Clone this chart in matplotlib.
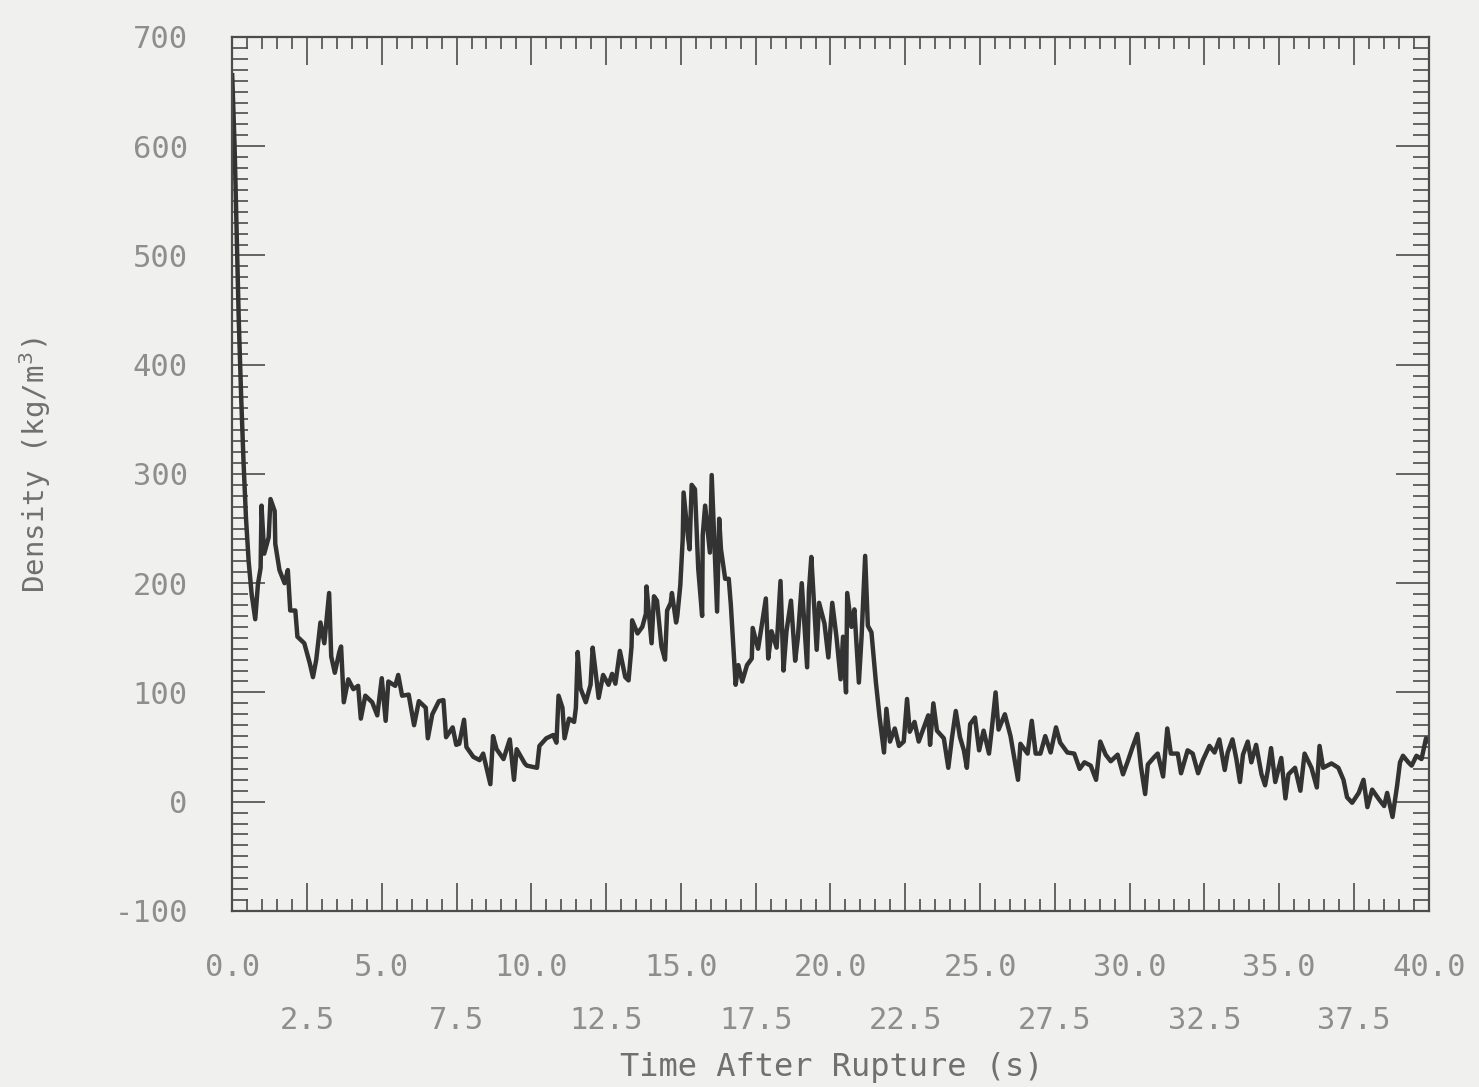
import matplotlib
matplotlib.use("Agg")
import matplotlib.pyplot as plt
from matplotlib.ticker import MultipleLocator

# Fluid density measured after the rupture
time_s = [
    0.00, 0.08, 0.15, 0.22, 0.30, 0.38, 0.46, 0.55, 0.65, 0.77,
    0.86, 0.95, 0.98, 1.07, 1.22, 1.28, 1.42, 1.44, 1.58, 1.75,
    1.86, 1.94, 2.11, 2.18, 2.41, 2.59, 2.70, 2.81, 2.95, 3.08,
    3.24, 3.31, 3.43, 3.58, 3.64, 3.73, 3.88, 4.05, 4.21, 4.30,
    4.45, 4.68, 4.85, 5.00, 5.13, 5.22, 5.45, 5.55, 5.68, 5.90,
    6.08, 6.24, 6.47, 6.54, 6.69, 6.91, 7.06, 7.15, 7.37, 7.49,
    7.59, 7.75, 7.83, 8.06, 8.27, 8.39, 8.63, 8.72, 8.84, 9.07,
    9.28, 9.42, 9.51, 9.78, 9.85, 10.19, 10.27, 10.50, 10.73, 10.84,
    10.91, 11.04, 11.11, 11.26, 11.43, 11.49, 11.55, 11.64, 11.82, 11.98,
    12.05, 12.13, 12.25, 12.40, 12.58, 12.70, 12.81, 12.96, 13.14, 13.25,
    13.35, 13.37, 13.55, 13.71, 13.83, 13.85, 14.02, 14.10, 14.20, 14.35,
    14.47, 14.54, 14.66, 14.70, 14.84, 14.88, 14.98, 15.06, 15.09, 15.23,
    15.29, 15.36, 15.47, 15.58, 15.71, 15.73, 15.81, 15.97, 16.03, 16.21,
    16.28, 16.34, 16.48, 16.60, 16.67, 16.73, 16.83, 16.92, 17.05, 17.21,
    17.37, 17.40, 17.58, 17.69, 17.84, 17.92, 18.03, 18.20, 18.33, 18.43,
    18.53, 18.68, 18.82, 18.91, 19.04, 19.22, 19.28, 19.36, 19.54, 19.62,
    19.80, 19.93, 20.06, 20.20, 20.34, 20.42, 20.52, 20.56, 20.70, 20.80,
    20.95, 21.04, 21.16, 21.25, 21.37, 21.52, 21.64, 21.79, 21.87, 21.99,
    22.15, 22.29, 22.45, 22.56, 22.65, 22.81, 22.95, 23.11, 23.27, 23.33,
    23.44, 23.56, 23.79, 23.94, 24.06, 24.19, 24.33, 24.46, 24.56, 24.67,
    24.83, 24.97, 25.12, 25.30, 25.40, 25.52, 25.62, 25.83, 26.02, 26.27,
    26.35, 26.59, 26.73, 26.86, 27.02, 27.18, 27.36, 27.54, 27.68, 27.92,
    28.15, 28.33, 28.49, 28.70, 28.88, 29.02, 29.20, 29.37, 29.60, 29.78,
    29.94, 30.10, 30.26, 30.38, 30.52, 30.61, 30.83, 30.94, 31.12, 31.26,
    31.38, 31.61, 31.72, 31.94, 32.11, 32.29, 32.45, 32.67, 32.84, 33.00,
    33.18, 33.28, 33.44, 33.57, 33.69, 33.79, 33.95, 34.07, 34.23, 34.41,
    34.53, 34.63, 34.73, 34.87, 35.07, 35.21, 35.31, 35.53, 35.71, 35.85,
    36.08, 36.26, 36.35, 36.47, 36.75, 36.98, 37.15, 37.27, 37.44, 37.66,
    37.82, 37.95, 38.11, 38.34, 38.51, 38.61, 38.79, 38.94, 39.04, 39.14,
    39.32, 39.43, 39.59, 39.76, 39.91, 40.00,
]

density = [
    665, 600, 520, 440, 370, 310, 260, 220, 190, 167,
    199, 214, 271, 227, 242, 277, 266, 236, 212, 200,
    212, 175, 175, 151, 145, 127, 114, 130, 164, 145,
    191, 133, 118, 137, 142, 91, 112, 103, 106, 76,
    97, 91, 79, 113, 74, 110, 106, 116, 97, 98,
    70, 92, 86, 58, 80, 92, 93, 59, 68, 52,
    53, 75, 50, 41, 38, 44, 16, 60, 48, 39,
    57, 20, 48, 35, 33, 31, 51, 58, 61, 54,
    97, 86, 58, 76, 73, 86, 137, 104, 91, 107,
    141, 123, 95, 116, 107, 117, 108, 138, 114, 111,
    142, 166, 154, 160, 172, 197, 145, 188, 184, 142,
    130, 175, 182, 191, 164, 170, 198, 240, 283, 244,
    231, 290, 286, 213, 170, 244, 271, 228, 299, 174,
    259, 231, 204, 204, 180, 153, 107, 125, 110, 125,
    131, 159, 140, 159, 186, 131, 156, 141, 202, 120,
    156, 184, 129, 150, 200, 123, 193, 224, 139, 182,
    163, 132, 182, 151, 112, 151, 100, 191, 160, 176,
    109, 151, 225, 161, 155, 109, 78, 45, 85, 55,
    67, 51, 55, 94, 64, 73, 55, 67, 79, 52,
    90, 65, 58, 31, 58, 83, 59, 47, 31, 71,
    77, 47, 65, 44, 68, 100, 66, 80, 60, 20,
    53, 44, 74, 44, 44, 60, 45, 68, 54, 45,
    44, 30, 36, 33, 20, 55, 43, 37, 43, 25,
    37, 50, 62, 32, 7, 34, 41, 44, 23, 67,
    44, 44, 26, 47, 44, 26, 38, 51, 45, 57,
    29, 45, 57, 39, 18, 43, 55, 36, 52, 25,
    15, 30, 49, 18, 40, 3, 25, 31, 10, 44,
    31, 13, 51, 31, 35, 31, 20, 4, -1, 8,
    20, -5, 11, 2, -4, 8, -14, 14, 36, 42,
    36, 33, 42, 39, 58, 55,
]

# Axis ticks and their labels (the time labels are staggered on two rows)
x_row1 = [0.0, 5.0, 10.0, 15.0, 20.0, 25.0, 30.0, 35.0, 40.0]
x_row1_labels = ["0.0", "5.0", "10.0", "15.0", "20.0", "25.0", "30.0", "35.0", "40.0"]
x_row2 = [2.5, 7.5, 12.5, 17.5, 22.5, 27.5, 32.5, 37.5]
x_row2_labels = ["2.5", "7.5", "12.5", "17.5", "22.5", "27.5", "32.5", "37.5"]
y_ticks = [-100, 0, 100, 200, 300, 400, 500, 600, 700]
y_labels = ["-100", "0", "100", "200", "300", "400", "500", "600", "700"]

assert len(time_s) == len(density)

PAPER = "#f0f0ee"
INK = "#333333"
FRAME = "#4c4c4c"
LABEL = "#8e8e8e"
MONO = "DejaVu Sans Mono"

fig = plt.figure(figsize=(14.79, 10.87), dpi=100, facecolor=PAPER)
ax = fig.add_axes([0.157, 0.162, 0.809, 0.804])
ax.set_facecolor(PAPER)

ax.plot(time_s, density, color=INK, lw=3.2, solid_joinstyle="round")

ax.set_xlim(0, 40)
ax.set_ylim(-100, 700)

ax.xaxis.set_major_locator(MultipleLocator(2.5))
ax.xaxis.set_minor_locator(MultipleLocator(0.5))
ax.set_yticks(y_ticks)
ax.yaxis.set_minor_locator(MultipleLocator(10))

for side in ax.spines.values():
    side.set_color(FRAME)
    side.set_linewidth(1.6)

ax.tick_params(which="both", direction="in", top=True, right=True,
               color=FRAME, width=1.2, labelbottom=False)
ax.tick_params(axis="x", which="major", length=20)
ax.tick_params(axis="x", which="minor", length=8.5)
ax.tick_params(axis="y", which="major", length=24)
ax.tick_params(axis="y", which="minor", length=11.5)
ax.tick_params(axis="y", which="major", pad=32, labelsize=22, labelcolor=LABEL)
ax.set_yticklabels(y_labels, family=MONO)

xt = ax.get_xaxis_transform()
for v, lab in zip(x_row1, x_row1_labels):
    ax.text(v, -0.065, lab, transform=xt, ha="center", va="center",
            fontsize=22, family=MONO, color=LABEL, clip_on=False)
for v, lab in zip(x_row2, x_row2_labels):
    ax.text(v, -0.125, lab, transform=xt, ha="center", va="center",
            fontsize=22, family=MONO, color=LABEL, clip_on=False)

fig.text(0.5625, 0.0175, "Time After Rupture (s)", ha="center", va="center",
         fontsize=23, family=MONO, color="#707070")
fig.text(0.0237, 0.572, "Density (kg/m$^3$)", ha="center", va="center",
         rotation=90, fontsize=21, family=MONO, color="#707070")

fig.savefig("out.png", dpi=100, facecolor=PAPER)
